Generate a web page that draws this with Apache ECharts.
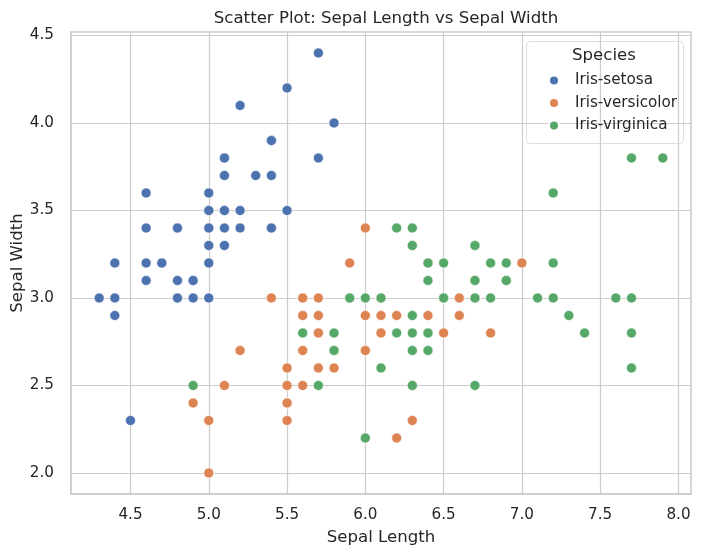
<!DOCTYPE html>
<html>
<head>
<meta charset="utf-8">
<script src="https://cdn.jsdelivr.net/npm/echarts@6/dist/echarts.min.js"></script>
<style>html,body{margin:0;padding:0;background:#fff;}#chart{width:701px;height:556px;}</style>
</head>
<body>
<div id="chart"></div>
<script>
var speciesNames = ['Iris-setosa', 'Iris-versicolor', 'Iris-virginica'];
var setosa = [[5.1,3.5],[4.9,3.0],[4.7,3.2],[4.6,3.1],[5.0,3.6],[5.4,3.9],[4.6,3.4],[5.0,3.4],[4.4,2.9],[4.9,3.1],[5.4,3.7],[4.8,3.4],[4.8,3.0],[4.3,3.0],[5.8,4.0],[5.7,4.4],[5.4,3.9],[5.1,3.5],[5.7,3.8],[5.1,3.8],[5.4,3.4],[5.1,3.7],[4.6,3.6],[5.1,3.3],[4.8,3.4],[5.0,3.0],[5.0,3.4],[5.2,3.5],[5.2,3.4],[4.7,3.2],[4.8,3.1],[5.4,3.4],[5.2,4.1],[5.5,4.2],[4.9,3.1],[5.0,3.2],[5.5,3.5],[4.9,3.1],[4.4,3.0],[5.1,3.4],[5.0,3.5],[4.5,2.3],[4.4,3.2],[5.0,3.5],[5.1,3.8],[4.8,3.0],[5.1,3.8],[4.6,3.2],[5.3,3.7],[5.0,3.3]];
var versicolor = [[7.0,3.2],[6.4,3.2],[6.9,3.1],[5.5,2.3],[6.5,2.8],[5.7,2.8],[6.3,3.3],[4.9,2.4],[6.6,2.9],[5.2,2.7],[5.0,2.0],[5.9,3.0],[6.0,2.2],[6.1,2.9],[5.6,2.9],[6.7,3.1],[5.6,3.0],[5.8,2.7],[6.2,2.2],[5.6,2.5],[5.9,3.2],[6.1,2.8],[6.3,2.5],[6.1,2.8],[6.4,2.9],[6.6,3.0],[6.8,2.8],[6.7,3.0],[6.0,2.9],[5.7,2.6],[5.5,2.4],[5.5,2.4],[5.8,2.7],[6.0,2.7],[5.4,3.0],[6.0,3.4],[6.7,3.1],[6.3,2.3],[5.6,3.0],[5.5,2.5],[5.5,2.6],[6.1,3.0],[5.8,2.6],[5.0,2.3],[5.6,2.7],[5.7,3.0],[5.7,2.9],[6.2,2.9],[5.1,2.5],[5.7,2.8]];
var virginica = [[6.3,3.3],[5.8,2.7],[7.1,3.0],[6.3,2.9],[6.5,3.0],[7.6,3.0],[4.9,2.5],[7.3,2.9],[6.7,2.5],[7.2,3.6],[6.5,3.2],[6.4,2.7],[6.8,3.0],[5.7,2.5],[5.8,2.8],[6.4,3.2],[6.5,3.0],[7.7,3.8],[7.7,2.6],[6.0,2.2],[6.9,3.2],[5.6,2.8],[7.7,2.8],[6.3,2.7],[6.7,3.3],[7.2,3.2],[6.2,2.8],[6.1,3.0],[6.4,2.8],[7.2,3.0],[7.4,2.8],[7.9,3.8],[6.4,2.8],[6.3,2.8],[6.1,2.6],[7.7,3.0],[6.3,3.4],[6.4,3.1],[6.0,3.0],[6.9,3.1],[6.7,3.1],[6.9,3.1],[5.8,2.7],[6.8,3.2],[6.7,3.3],[6.7,3.0],[6.3,2.5],[6.5,3.0],[6.2,3.4],[5.9,3.0]];
var xTicks = [4.5, 5.0, 5.5, 6.0, 6.5, 7.0, 7.5, 8.0];
var yTicks = [2.0, 2.5, 3.0, 3.5, 4.0, 4.5];
var colors = ['#4C72B0', '#DD8452', '#55A868'];

var chart = echarts.init(document.getElementById('chart'), null, {renderer: 'canvas'});
var font = 'DejaVu Sans';
var allData = [setosa, versicolor, virginica];
var series = speciesNames.map(function (n, i) {
  return {
    name: n, type: 'scatter', data: allData[i], symbolSize: 10,
    itemStyle: {color: colors[i], borderColor: '#ffffff', borderWidth: 0.6, opacity: 1},
    emphasis: {disabled: true}
  };
});
chart.setOption({
  animation: false,
  backgroundColor: '#ffffff',
  textStyle: {fontFamily: font},
  title: {
    text: 'Scatter Plot: Sepal Length vs Sepal Width',
    left: 381, top: 5, textAlign: 'center',
    textStyle: {fontFamily: font, fontSize: 16.6, fontWeight: 'normal', color: '#262626'}
  },
  grid: {left: 71, right: 10, top: 32, bottom: 62, show: true, borderColor: '#cccccc', borderWidth: 1.5,
    backgroundColor: 'transparent', containLabel: false, outerBoundsMode: 'none'},
  xAxis: {
    type: 'value', min: 4.12, max: 8.08,
    name: 'Sepal Length', nameLocation: 'middle', nameGap: 35, nameMoveOverlap: false,
    nameTextStyle: {fontFamily: font, fontSize: 16.6, color: '#262626'},
    axisLine: {show: true, lineStyle: {color: '#cccccc', width: 1.5}},
    axisTick: {show: false, customValues: xTicks},
    axisLabel: {customValues: xTicks, margin: 14, fontSize: 15.2, color: '#262626', fontFamily: font,
      formatter: function (v) { return v.toFixed(1); }},
    splitLine: {show: true, lineStyle: {color: '#cccccc', width: 1.2}}
  },
  yAxis: {
    type: 'value', min: 1.88, max: 4.52,
    name: 'Sepal Width', nameLocation: 'middle', nameGap: 45, nameMoveOverlap: false,
    nameTextStyle: {fontFamily: font, fontSize: 16.6, color: '#262626'},
    axisLine: {show: true, lineStyle: {color: '#cccccc', width: 1.5}},
    axisTick: {show: false, customValues: yTicks},
    axisLabel: {customValues: yTicks, margin: 17, fontSize: 15.2, color: '#262626', fontFamily: font,
      formatter: function (v) { return v.toFixed(1); }},
    splitLine: {show: true, lineStyle: {color: '#cccccc', width: 1.2}}
  },
  legend: {
    data: speciesNames, orient: 'vertical', left: 543, top: 67,
    icon: 'circle', itemWidth: 10, itemHeight: 10, itemGap: 5.5,
    textStyle: {fontFamily: font, fontSize: 15.2, color: '#262626', padding: [0, 0, 0, 11], lineHeight: 17},
    selectedMode: false
  },
  graphic: [
    {type: 'rect', left: 526, top: 41, z: 0,
      shape: {width: 157, height: 102, r: 4},
      style: {fill: 'rgba(255,255,255,0.8)', stroke: '#dddddd', lineWidth: 1}},
    {type: 'text', left: 572, top: 47, z: 1,
      style: {text: 'Species', font: '16.6px "DejaVu Sans"', fill: '#262626'}}
  ],
  series: series
});
</script>
</body>
</html>
